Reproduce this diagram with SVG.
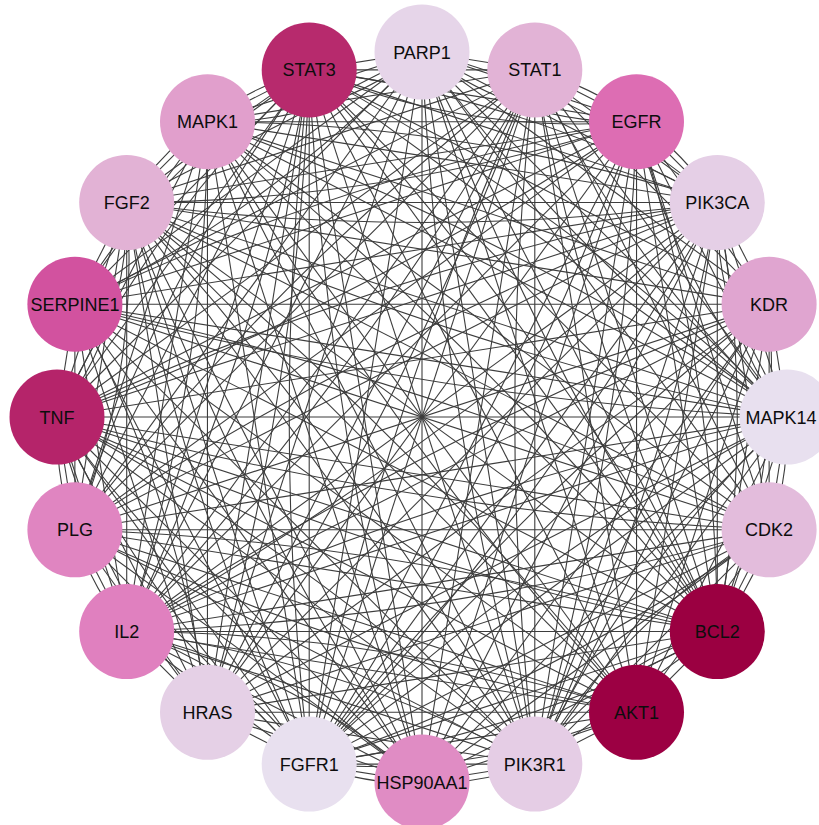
<svg xmlns="http://www.w3.org/2000/svg" xmlns:xlink="http://www.w3.org/1999/xlink" width="819" height="825" viewBox="0 0 819 825">
<style>
.e{fill:none;stroke:#3d3d3d;stroke-width:1.1}
.n{stroke:none}
.t{font-family:"Liberation Sans",Arial,sans-serif;font-size:18px;fill:#0d0d0d;text-anchor:middle}
</style>
<defs>
<path id="c1" d="M0,-365L112.79,-347.14"/>
<path id="c2" d="M0,-365L214.54,-295.29"/>
<path id="c3" d="M0,-365L295.29,-214.54"/>
<path id="c4" d="M0,-365L347.14,-112.79"/>
<path id="c5" d="M0,-365L365,0"/>
<path id="c6" d="M0,-365L347.14,112.79"/>
<path id="c7" d="M0,-365L295.29,214.54"/>
<path id="c8" d="M0,-365L214.54,295.29"/>
<path id="c9" d="M0,-365L112.79,347.14"/>
<path id="c10" d="M0,-365L0,365"/>
<path id="i2" d="M0,-365Q94.91,-292.10 214.54,-295.29"/>
<path id="i3" d="M0,-365Q129.49,-254.13 295.29,-214.54"/>
<path id="i4" d="M0,-365Q150.06,-206.54 347.14,-112.79"/>
<path id="i5" d="M0,-365Q154.22,-154.22 365,0"/>
<path id="i6" d="M0,-365Q141.20,-102.59 347.14,112.79"/>
<path id="i7" d="M0,-365Q112.01,-57.07 295.29,214.54"/>
<path id="i8" d="M0,-365Q69.23,-22.50 214.54,295.29"/>
<path id="i9" d="M0,-365Q16.89,-2.67 112.79,347.14"/>
<path id="i10" d="M0,-365Q-40,0 0,365"/>
<path id="o2" d="M0,-365Q119.63,-368.20 214.54,-295.29"/>
<path id="o3" d="M0,-365Q165.81,-325.41 295.29,-214.54"/>
<path id="o4" d="M0,-365Q197.08,-271.26 347.14,-112.79"/>
<path id="o5" d="M0,-365Q210.78,-210.78 365,0"/>
<path id="o6" d="M0,-365Q205.94,-149.63 347.14,112.79"/>
<path id="o7" d="M0,-365Q183.29,-93.39 295.29,214.54"/>
<path id="o8" d="M0,-365Q145.31,-47.22 214.54,295.29"/>
<path id="o9" d="M0,-365Q95.91,-15.19 112.79,347.14"/>
<path id="o10" d="M0,-365Q40,0 0,365"/>
<g id="fan">
<use href="#c1"/><use href="#c2"/><use href="#c3"/><use href="#c4"/><use href="#c5"/><use href="#c6"/><use href="#c7"/><use href="#c8"/><use href="#c9"/>
</g>
</defs>
<rect width="819" height="825" fill="#ffffff"/>
<g id="edges" class="e" transform="translate(422,417)">
<use href="#fan" transform="rotate(0)"/><use href="#fan" transform="rotate(18)"/><use href="#fan" transform="rotate(36)"/><use href="#fan" transform="rotate(54)"/><use href="#fan" transform="rotate(72)"/>
<use href="#fan" transform="rotate(90)"/><use href="#fan" transform="rotate(108)"/><use href="#fan" transform="rotate(126)"/><use href="#fan" transform="rotate(144)"/><use href="#fan" transform="rotate(162)"/>
<use href="#fan" transform="rotate(180)"/><use href="#fan" transform="rotate(198)"/><use href="#fan" transform="rotate(216)"/><use href="#fan" transform="rotate(234)"/><use href="#fan" transform="rotate(252)"/>
<use href="#fan" transform="rotate(270)"/><use href="#fan" transform="rotate(288)"/><use href="#fan" transform="rotate(306)"/><use href="#fan" transform="rotate(324)"/><use href="#fan" transform="rotate(342)"/>
<use href="#c10" transform="rotate(0)"/><use href="#c10" transform="rotate(18)"/><use href="#c10" transform="rotate(36)"/><use href="#c10" transform="rotate(54)"/><use href="#c10" transform="rotate(72)"/>
<use href="#c10" transform="rotate(90)"/><use href="#c10" transform="rotate(108)"/><use href="#c10" transform="rotate(126)"/><use href="#c10" transform="rotate(144)"/><use href="#c10" transform="rotate(162)"/>
<use href="#i2" transform="rotate(0)"/><use href="#i2" transform="rotate(54)"/><use href="#i2" transform="rotate(126)"/><use href="#i2" transform="rotate(198)"/><use href="#i2" transform="rotate(270)"/><use href="#i2" transform="rotate(324)"/>
<use href="#o2" transform="rotate(18)"/><use href="#o2" transform="rotate(90)"/><use href="#o2" transform="rotate(162)"/><use href="#o2" transform="rotate(234)"/><use href="#o2" transform="rotate(306)"/>
<use href="#i3" transform="rotate(36)"/><use href="#i3" transform="rotate(108)"/><use href="#i3" transform="rotate(180)"/><use href="#i3" transform="rotate(252)"/><use href="#i3" transform="rotate(342)"/>
<use href="#o3" transform="rotate(0)"/><use href="#o3" transform="rotate(72)"/><use href="#o3" transform="rotate(144)"/><use href="#o3" transform="rotate(216)"/><use href="#o3" transform="rotate(288)"/>
<use href="#i4" transform="rotate(18)"/><use href="#i4" transform="rotate(90)"/><use href="#i4" transform="rotate(162)"/><use href="#i4" transform="rotate(216)"/><use href="#i4" transform="rotate(288)"/>
<use href="#o4" transform="rotate(54)"/><use href="#o4" transform="rotate(126)"/><use href="#o4" transform="rotate(198)"/><use href="#o4" transform="rotate(270)"/><use href="#o4" transform="rotate(342)"/>
<use href="#i5" transform="rotate(0)"/><use href="#i5" transform="rotate(72)"/><use href="#i5" transform="rotate(144)"/><use href="#i5" transform="rotate(234)"/><use href="#i5" transform="rotate(306)"/>
<use href="#o5" transform="rotate(36)"/><use href="#o5" transform="rotate(108)"/><use href="#o5" transform="rotate(180)"/><use href="#o5" transform="rotate(252)"/><use href="#o5" transform="rotate(324)"/>
<use href="#i6" transform="rotate(18)"/><use href="#i6" transform="rotate(90)"/><use href="#i6" transform="rotate(162)"/><use href="#i6" transform="rotate(234)"/><use href="#i6" transform="rotate(306)"/>
<use href="#o6" transform="rotate(54)"/><use href="#o6" transform="rotate(144)"/><use href="#o6" transform="rotate(198)"/><use href="#o6" transform="rotate(288)"/><use href="#o6" transform="rotate(342)"/>
<use href="#i7" transform="rotate(0)"/><use href="#i7" transform="rotate(72)"/><use href="#i7" transform="rotate(126)"/><use href="#i7" transform="rotate(216)"/><use href="#i7" transform="rotate(270)"/>
<use href="#o7" transform="rotate(36)"/><use href="#o7" transform="rotate(108)"/><use href="#o7" transform="rotate(180)"/><use href="#o7" transform="rotate(252)"/><use href="#o7" transform="rotate(324)"/>
<use href="#i8" transform="rotate(18)"/><use href="#i8" transform="rotate(90)"/><use href="#i8" transform="rotate(162)"/><use href="#i8" transform="rotate(234)"/><use href="#i8" transform="rotate(306)"/>
<use href="#o8" transform="rotate(54)"/><use href="#o8" transform="rotate(126)"/><use href="#o8" transform="rotate(198)"/><use href="#o8" transform="rotate(270)"/><use href="#o8" transform="rotate(342)"/>
<use href="#i9" transform="rotate(0)"/><use href="#i9" transform="rotate(72)"/><use href="#i9" transform="rotate(144)"/><use href="#i9" transform="rotate(216)"/><use href="#i9" transform="rotate(288)"/>
<use href="#o9" transform="rotate(36)"/><use href="#o9" transform="rotate(108)"/><use href="#o9" transform="rotate(180)"/><use href="#o9" transform="rotate(252)"/><use href="#o9" transform="rotate(324)"/>
<use href="#i10" transform="rotate(18)"/><use href="#i10" transform="rotate(108)"/>
<use href="#o10" transform="rotate(54)"/><use href="#o10" transform="rotate(144)"/>
</g>
<g id="node-PARP1"><circle class="n" cx="422" cy="52" r="47.5" fill="#e6d5e9"/><text class="t" x="422" y="58.5">PARP1</text></g>
<g id="node-STAT1"><circle class="n" cx="534.8" cy="69.9" r="47.5" fill="#e2b3d6"/><text class="t" x="534.8" y="76.4">STAT1</text></g>
<g id="node-EGFR"><circle class="n" cx="636.5" cy="121.7" r="47.5" fill="#dd6db3"/><text class="t" x="636.5" y="128.2">EGFR</text></g>
<g id="node-PIK3CA"><circle class="n" cx="717.3" cy="202.5" r="47.5" fill="#e5cfe6"/><text class="t" x="717.3" y="209">PIK3CA</text></g>
<g id="node-KDR"><circle class="n" cx="769.1" cy="304.2" r="47.5" fill="#e0a5d0"/><text class="t" x="769.1" y="310.7">KDR</text></g>
<g id="node-MAPK14"><circle class="n" cx="787" cy="417" r="47.5" fill="#e8e0ef"/><text class="t" x="781" y="423.5">MAPK14</text></g>
<g id="node-CDK2"><circle class="n" cx="769.1" cy="529.8" r="47.5" fill="#e3bcdc"/><text class="t" x="769.1" y="536.3">CDK2</text></g>
<g id="node-BCL2"><circle class="n" cx="717.3" cy="631.5" r="47.5" fill="#9b0041"/><text class="t" x="717.3" y="638">BCL2</text></g>
<g id="node-AKT1"><circle class="n" cx="636.5" cy="712.3" r="47.5" fill="#9c0043"/><text class="t" x="636.5" y="718.8">AKT1</text></g>
<g id="node-PIK3R1"><circle class="n" cx="534.8" cy="764.1" r="47.5" fill="#e5cde5"/><text class="t" x="534.8" y="770.6">PIK3R1</text></g>
<g id="node-HSP90AA1"><circle class="n" cx="422" cy="782" r="47.5" fill="#e08cc4"/><text class="t" x="422" y="788.5">HSP90AA1</text></g>
<g id="node-FGFR1"><circle class="n" cx="309.2" cy="764.1" r="47.5" fill="#e8e0ef"/><text class="t" x="309.2" y="770.6">FGFR1</text></g>
<g id="node-HRAS"><circle class="n" cx="207.5" cy="712.3" r="47.5" fill="#e5d0e6"/><text class="t" x="207.5" y="718.8">HRAS</text></g>
<g id="node-IL2"><circle class="n" cx="126.7" cy="631.5" r="47.5" fill="#e080bf"/><text class="t" x="126.7" y="638">IL2</text></g>
<g id="node-PLG"><circle class="n" cx="74.9" cy="529.8" r="47.5" fill="#e085c1"/><text class="t" x="74.9" y="536.3">PLG</text></g>
<g id="node-TNF"><circle class="n" cx="57" cy="417" r="47.5" fill="#b5246a"/><text class="t" x="57" y="423.5">TNF</text></g>
<g id="node-SERPINE1"><circle class="n" cx="74.9" cy="304.2" r="47.5" fill="#d2529f"/><text class="t" x="74.9" y="310.7">SERPINE1</text></g>
<g id="node-FGF2"><circle class="n" cx="126.7" cy="202.5" r="47.5" fill="#e2b2d5"/><text class="t" x="126.7" y="209">FGF2</text></g>
<g id="node-MAPK1"><circle class="n" cx="207.5" cy="121.7" r="47.5" fill="#e19fcc"/><text class="t" x="207.5" y="128.2">MAPK1</text></g>
<g id="node-STAT3"><circle class="n" cx="309.2" cy="69.9" r="47.5" fill="#b72a6d"/><text class="t" x="309.2" y="76.4">STAT3</text></g>
</svg>
